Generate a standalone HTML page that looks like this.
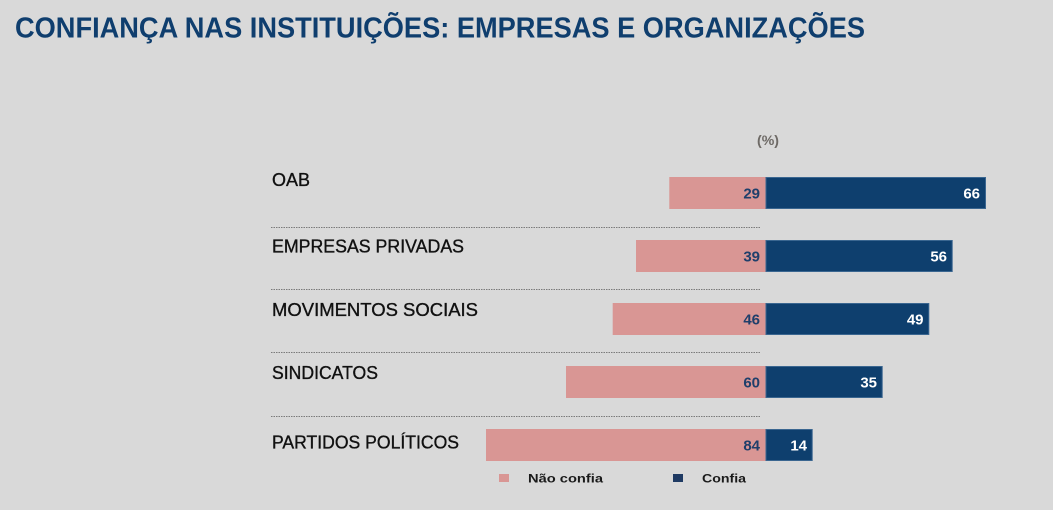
<!DOCTYPE html>
<html>
<head>
<meta charset="utf-8">
<style>
html,body{margin:0;padding:0;background:#d9d9d9;}
svg{display:block;}
</style>
</head>
<body>
<svg width="1053" height="510" viewBox="0 0 1053 510" xmlns="http://www.w3.org/2000/svg">
<rect x="0" y="0" width="1053" height="510" fill="#d9d9d9"/>
<text x="15" y="37.7" font-family="Liberation Sans, sans-serif" font-weight="bold" font-size="29" fill="#0f3e6e" textLength="850" lengthAdjust="spacingAndGlyphs">CONFIANÇA NAS INSTITUIÇÕES: EMPRESAS E ORGANIZAÇÕES</text>

<text x="757" y="145" font-family="Liberation Sans, sans-serif" font-weight="bold" font-size="14" fill="#6e6a66" textLength="22" lengthAdjust="spacingAndGlyphs">(%)</text>

<g font-family="Liberation Sans, sans-serif" font-size="18.5" fill="#111" stroke="#111" stroke-width="0.35">
<text x="272" y="186" textLength="38" lengthAdjust="spacingAndGlyphs">OAB</text>
<text x="272" y="252.5" textLength="192" lengthAdjust="spacingAndGlyphs">EMPRESAS PRIVADAS</text>
<text x="272" y="316" textLength="206" lengthAdjust="spacingAndGlyphs">MOVIMENTOS SOCIAIS</text>
<text x="272" y="379" textLength="106" lengthAdjust="spacingAndGlyphs">SINDICATOS</text>
<text x="272" y="448.3" textLength="187" lengthAdjust="spacingAndGlyphs">PARTIDOS POLÍTICOS</text>
</g>

<g stroke="#7a7a7a" stroke-width="1" stroke-dasharray="1.5 1">
<line x1="271" y1="227.5" x2="760" y2="227.5"/>
<line x1="271" y1="289.5" x2="760" y2="289.5"/>
<line x1="271" y1="352.5" x2="760" y2="352.5"/>
<line x1="271" y1="416.5" x2="760" y2="416.5"/>
</g>

<g fill="#d99694">
<rect x="669.3" y="177" width="96.7" height="32"/>
<rect x="636" y="240" width="130" height="32"/>
<rect x="612.7" y="303" width="153.3" height="32"/>
<rect x="566" y="366" width="200" height="32"/>
<rect x="486" y="429" width="280" height="32"/>
</g>
<g fill="#0e3f6e" stroke="#3a6690" stroke-width="1">
<rect x="766" y="177.5" width="219.5" height="31"/>
<rect x="766" y="240.5" width="186.2" height="31"/>
<rect x="766" y="303.5" width="162.8" height="31"/>
<rect x="766" y="366.5" width="116.2" height="31"/>
<rect x="766" y="429.5" width="46.2" height="31"/>
</g>

<g font-family="Liberation Sans, sans-serif" font-weight="bold" font-size="15" fill="#1f3f6b" text-anchor="end">
<text x="760" y="198.5">29</text>
<text x="760" y="261.5">39</text>
<text x="760" y="324.5">46</text>
<text x="760" y="387.5">60</text>
<text x="760" y="450.5">84</text>
</g>
<g font-family="Liberation Sans, sans-serif" font-weight="bold" font-size="15" fill="#ffffff" text-anchor="end">
<text x="980" y="198.5">66</text>
<text x="947" y="261.5">56</text>
<text x="923.5" y="324.5">49</text>
<text x="877" y="387.5">35</text>
<text x="807" y="450.5">14</text>
</g>

<rect x="499" y="474" width="10" height="8" fill="#d99694"/>
<rect x="673" y="474" width="10" height="8" fill="#1f3a63"/>
<g font-family="Liberation Sans, sans-serif" font-weight="bold" font-size="11.5" fill="#1a1a1a">
<text x="528" y="482.3" textLength="75" lengthAdjust="spacingAndGlyphs">Não confia</text>
<text x="702" y="482.3" textLength="44" lengthAdjust="spacingAndGlyphs">Confia</text>
</g>
</svg>
</body>
</html>
